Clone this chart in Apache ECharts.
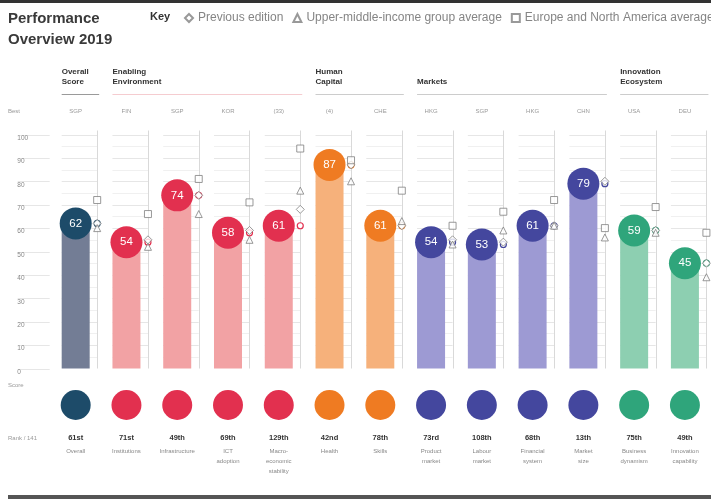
<!DOCTYPE html>
<html><head><meta charset="utf-8">
<script src="https://cdn.jsdelivr.net/npm/echarts@6/dist/echarts.min.js"></script>
<style>html,body{margin:0;padding:0;background:#fff}#c{width:711px;height:502px}</style>
</head><body><div id="c"></div>
<script>
// ---- data ----
const pillars = ['Overall','Institutions','Infrastructure','ICT\nadoption','Macro-\neconomic\nstability','Health','Skills','Product\nmarket','Labour\nmarket','Financial\nsystem','Market\nsize','Business\ndynamism','Innovation\ncapability'];
const bestPerformer = ['SGP','FIN','SGP','KOR','(33)','(4)','CHE','HKG','SGP','HKG','CHN','USA','DEU'];
const scores = [62,54,74,58,61,87,61,54,53,61,79,59,45];
const ranks = ['61st','71st','49th','69th','129th','42nd','78th','73rd','108th','68th','13th','75th','49th'];
const previousEdition = [62,55,74,59,68,87,61,55,54,61,80,59,45];
const upperMiddleIncomeAvg = [60,52,66,55,76,80,63,53,59,61,56,58,39];
const europeNorthAmericaAvg = [72,66,81,71,94,89,76,61,67,72,60,69,58];
const groupNames = ['Overall\nScore','Enabling\nEnvironment','Human\nCapital','Markets','Innovation\nEcosystem'];
const groupOf = [0,1,1,1,1,2,2,3,3,3,3,4,4];

// ---- style ----
const dark = ['#1d4b69','#e2304f','#ef7b22','#44479e','#2fa57b'];
const light = ['#737d95','#f2a2a4','#f6b17b','#9d9ad3','#8dcfb1'];
const underline = ['#9a9a9a','#f5ccd0','#cccccc','#cccccc','#cccccc'];
const OFF = 21.5;
const FONT = '"Liberation Sans", Arial, sans-serif';
const mk = {color:'#fff', borderColor:'#808080', borderWidth:1};

const chart = echarts.init(document.getElementById('c'));
const idx = pillars.map((_,i)=>i);

const option = {
  animation:false,
  textStyle:{fontFamily:FONT},
  title:{text:'Performance\nOverview 2019', left:3, top:3,
    textStyle:{fontSize:15, fontWeight:'bold', color:'#3a3a3a', lineHeight:21, fontFamily:FONT}},
  legend:{left:179, top:7, width:2000, itemWidth:8, itemHeight:8, itemGap:9, selectedMode:false,
    textStyle:{fontSize:12, color:'#858585', fontFamily:FONT},
    data:['Previous edition','Upper-middle-income group average','Europe and North America average']},
  grid:[{left:50.3, width:660, top:134.5, height:234},
        {left:50.3, width:660, top:390, height:30}],
  xAxis:[
    {type:'category', gridIndex:0, data:pillars, position:'top',
     axisLine:{show:false}, axisTick:{show:false},
     axisLabel:{interval:0, margin:20, fontSize:6, color:'#999', formatter:(v,i)=>bestPerformer[i]}},
    {type:'category', gridIndex:1, data:pillars, position:'bottom',
     axisLine:{show:false}, axisTick:{show:false},
     axisLabel:{interval:0, margin:10,
       formatter:(v,i)=>'{r|'+ranks[i]+'}\n'+v.split('\n').map(s=>'{n|'+s+'}').join('\n'),
       rich:{r:{fontSize:7.5, fontWeight:'bold', color:'#333', lineHeight:16},
             n:{fontSize:6, color:'#888', lineHeight:10}}}}
  ],
  yAxis:[
    {type:'value', gridIndex:0, min:0, max:100, interval:10,
     axisLine:{show:false}, axisTick:{show:false}, splitLine:{show:false},
     axisLabel:{fontSize:6.5, color:'#888', align:'left', margin:33, verticalAlign:'top'}},
    {type:'value', gridIndex:1, min:0, max:1, show:false}
  ],
  series:[
    {type:'custom', xAxisIndex:0, yAxisIndex:0, silent:true, z:0,
     data: idx.map(i=>[i,0]),
     renderItem(params, api){
       const i = api.value(0);
       const base = api.coord([i,0]);
       const topP = api.coord([i,100]);
       const xc = base[0];
       const ch = [];
       for (let v=5; v<=100; v+=5){
         const y = Math.round(api.coord([i,v])[1])+0.5;
         ch.push({type:'line', shape:{x1:xc-14,y1:y,x2:xc+OFF,y2:y}, style:{stroke:v%10===0?'#e6e6e6':'#f0f0f0', lineWidth:1}});
       }
       ch.push({type:'line', shape:{x1:Math.round(xc+OFF)+0.5,y1:topP[1]-4,x2:Math.round(xc+OFF)+0.5,y2:base[1]}, style:{stroke:'#d9d9d9', lineWidth:1}});
       if (i===0){
         for (let v=0; v<=100; v+=10){
           const y = Math.round(api.coord([i,v])[1])+0.5;
           ch.push({type:'line', shape:{x1:xc-58,y1:y,x2:xc-26,y2:y}, style:{stroke:'#e6e6e6', lineWidth:1}});
         }
       }
       return {type:'group', children:ch};
     }},
    {type:'bar', xAxisIndex:0, yAxisIndex:0, barWidth:28, z:2,
     data: scores.map((s,i)=>({value:s, itemStyle:{color:light[groupOf[i]]}}))},
    {type:'scatter', xAxisIndex:0, yAxisIndex:0, symbolSize:32, z:3,
     data: scores.map((s,i)=>({value:s, itemStyle:{color:dark[groupOf[i]], opacity:1}})),
     label:{show:true, position:'inside', color:'#fff', fontSize:11.5, formatter:p=>p.value}},
    {type:'scatter', name:'current', xAxisIndex:0, yAxisIndex:0, symbol:'circle', symbolSize:6, symbolOffset:[OFF,0], z:4,
     data: scores.map((s,i)=>({value:s, itemStyle:{color:'#fff', borderColor:dark[groupOf[i]], borderWidth:1.2, opacity:1}}))},
    {type:'scatter', name:'Previous edition', xAxisIndex:0, yAxisIndex:0, symbol:'diamond', symbolSize:8, symbolOffset:[OFF,0], z:5,
     itemStyle:mk, data: previousEdition},
    {type:'scatter', name:'Upper-middle-income group average', xAxisIndex:0, yAxisIndex:0, symbol:'triangle', symbolSize:7, symbolOffset:[OFF,0], z:5,
     itemStyle:mk, data: upperMiddleIncomeAvg},
    {type:'scatter', name:'Europe and North America average', xAxisIndex:0, yAxisIndex:0, symbol:'rect', symbolSize:7, symbolOffset:[OFF,0], z:5,
     itemStyle:mk, data: europeNorthAmericaAvg},
    {type:'scatter', xAxisIndex:1, yAxisIndex:1, symbolSize:30, silent:true,
     data: idx.map(i=>({value:[i,0.5], itemStyle:{color:dark[groupOf[i]], opacity:1}}))}
  ]
};
chart.setOption(option);

// ---- annotation layout derived from the axis ----
const cx = i => chart.convertToPixel({xAxisIndex:0}, i);
const graphics = [
  {type:'rect', shape:{x:0,y:0,width:711,height:3}, style:{fill:'#333'}},
  {type:'rect', shape:{x:8,y:495,width:703,height:4}, style:{fill:'#555'}},
  {type:'text', style:{text:'Key', x:150, y:17, font:'bold 11px '+FONT, fill:'#333', textVerticalAlign:'middle', verticalAlign:'middle'}},
  {type:'text', style:{text:'Best', x:8, y:111, font:'6px '+FONT, fill:'#999', textVerticalAlign:'middle', verticalAlign:'middle'}},
  {type:'text', style:{text:'Score', x:8, y:385, font:'6px '+FONT, fill:'#999', textVerticalAlign:'middle', verticalAlign:'middle'}},
  {type:'text', style:{text:'Rank / 141', x:8, y:438, font:'6px '+FONT, fill:'#999', textVerticalAlign:'middle', verticalAlign:'middle'}}
];
groupNames.forEach((g,k)=>{
  const members = idx.filter(i=>groupOf[i]===k);
  const x0 = cx(members[0]) - 14;
  const x1 = cx(members[members.length-1]) + OFF + 2;
  graphics.push({type:'text', style:{text:g, x:x0, y:87, font:'bold 8px '+FONT, lineHeight:10, fill:'#333',
    textVerticalAlign:'bottom', verticalAlign:'bottom'}});
  graphics.push({type:'line', shape:{x1:x0, y1:94.5, x2:x1, y2:94.5}, style:{stroke:underline[k], lineWidth:1}});
});
chart.setOption({graphic:graphics});
</script></body></html>
